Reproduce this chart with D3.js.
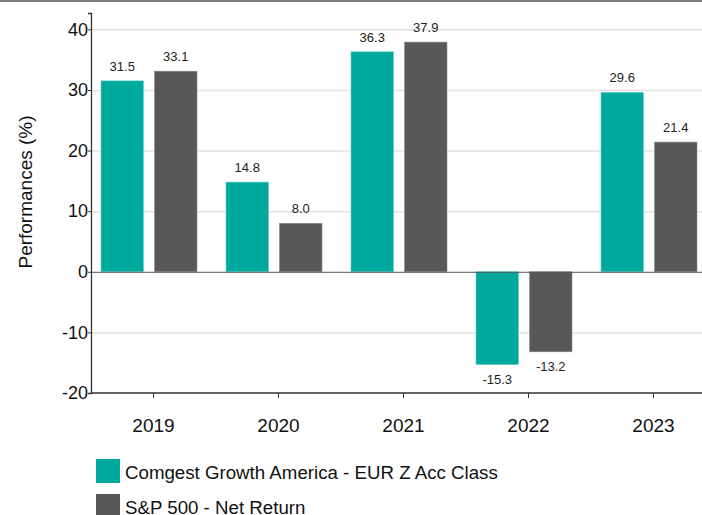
<!DOCTYPE html>
<html>
<head>
<meta charset="utf-8">
<script src="https://cdn.jsdelivr.net/npm/d3@7"></script>
<style>
  html, body { margin: 0; background: #fff; overflow: hidden; }
  svg { display: block; font-family: "Liberation Sans", Arial, sans-serif; }
</style>
</head>
<body>
<div id="chart"></div>
<script>
// data
var years = ['2019', '2020', '2021', '2022', '2023'];
var seriesNames = ['Comgest Growth America - EUR Z Acc Class', 'S&P 500 - Net Return'];
var fundValues = [31.5, 14.8, 36.3, -15.3, 29.6];
var indexValues = [33.1, 8.0, 37.9, -13.2, 21.4];
var yTicks = [-20, -10, 0, 10, 20, 30, 40];

var colors = ['#00A99D', '#585858'];

var width = 702, height = 515;
var margin = {top: 13, left: 91, bottom: 122};

var svg = d3.select('#chart')
  .append('svg')
  .attr('width', width)
  .attr('height', height);

// top border line
svg.append('line')
  .attr('x1', 0).attr('x2', width)
  .attr('y1', 1).attr('y2', 1)
  .attr('stroke', '#7a7a7a')
  .attr('stroke-width', 2);

var y = d3.scaleLinear()
  .domain([-20, 42.7])
  .range([height - margin.bottom, margin.top]);

var x0 = d3.scaleBand()
  .domain(years)
  .range([margin.left, margin.left + 625]);

var x1 = d3.scaleBand()
  .domain([0, 1])
  .range([0, 96])
  .paddingInner(0.206);

var groupOffset = 10;

// gridlines
svg.append('g')
  .selectAll('line')
  .data(yTicks.filter(function(t) { return t !== -20 && t !== 0; }))
  .enter()
  .append('line')
  .attr('x1', margin.left).attr('x2', width)
  .attr('y1', function(d) { return y(d) + 0.5; })
  .attr('y2', function(d) { return y(d) + 0.5; })
  .attr('stroke', '#e2e2e2')
  .attr('stroke-width', 1.5);

// bars
var rows = years.map(function(yr, i) {
  return {year: yr, values: [fundValues[i], indexValues[i]]};
});

var groups = svg.append('g')
  .selectAll('g')
  .data(rows)
  .enter()
  .append('g')
  .attr('transform', function(d) { return 'translate(' + (x0(d.year) + groupOffset) + ',0)'; });

var bars = groups.selectAll('g')
  .data(function(d) { return d.values.map(function(v, k) { return {k: k, v: v}; }); })
  .enter()
  .append('g');

bars.append('rect')
  .attr('x', function(d) { return x1(d.k); })
  .attr('y', function(d) { return y(Math.max(0, d.v)); })
  .attr('width', x1.bandwidth())
  .attr('height', function(d) { return Math.abs(y(d.v) - y(0)); })
  .attr('fill', function(d) { return colors[d.k]; })
  .attr('stroke', function(d) { return d.k === 0 ? '#5fd0c7' : '#8a8a8a'; })
  .attr('stroke-width', 0.6);

bars.append('text')
  .attr('x', function(d) { return x1(d.k) + x1.bandwidth() / 2; })
  .attr('y', function(d) { return d.v >= 0 ? y(d.v) - 10 : y(d.v) + 19; })
  .attr('text-anchor', 'middle')
  .attr('font-size', 13)
  .attr('fill', '#222')
  .text(function(d) { return d.v.toFixed(1); });

// zero line
svg.append('line')
  .attr('x1', margin.left).attr('x2', width)
  .attr('y1', y(0) + 0.5).attr('y2', y(0) + 0.5)
  .attr('stroke', '#555')
  .attr('stroke-width', 1);

// y axis
var yAxis = svg.append('g')
  .attr('transform', 'translate(' + margin.left + ',0)')
  .call(d3.axisLeft(y).tickValues(yTicks).tickSize(3).tickPadding(0)
    .tickFormat(function(d) { return String(d); }));
yAxis.select('.domain').attr('stroke', '#333').attr('stroke-width', 1.3);
yAxis.selectAll('.tick line').attr('stroke', '#333');
yAxis.selectAll('.tick text')
  .attr('font-size', 18)
  .attr('fill', '#111')
  .attr('font-family', '"Liberation Sans", Arial, sans-serif');

// x axis
var xAxis = svg.append('g')
  .attr('transform', 'translate(0,' + y(-20) + ')')
  .call(d3.axisBottom(x0).tickSize(5).tickSizeOuter(0).tickPadding(21));
xAxis.select('.domain').attr('stroke', '#333').attr('stroke-width', 1.3)
  .attr('d', 'M' + margin.left + ',0H' + width);
xAxis.selectAll('.tick line').attr('stroke', '#333');
xAxis.selectAll('.tick text')
  .attr('font-size', 19)
  .attr('fill', '#111')
  .attr('font-family', '"Liberation Sans", Arial, sans-serif');

// y axis title
svg.append('text')
  .attr('transform', 'translate(32,192) rotate(-90)')
  .attr('text-anchor', 'middle')
  .attr('font-size', 19)
  .attr('fill', '#111')
  .text('Performances (%)');

// legend
var legend = svg.append('g')
  .selectAll('g')
  .data(seriesNames)
  .enter()
  .append('g')
  .attr('transform', function(d, i) { return 'translate(96,' + (459 + i * 35) + ')'; });

legend.append('rect')
  .attr('width', 24)
  .attr('height', 24)
  .attr('fill', function(d, i) { return colors[i]; });

legend.append('text')
  .attr('x', 29)
  .attr('y', 19.5)
  .attr('font-size', 18.7)
  .attr('fill', '#111')
  .text(function(d) { return d; });
</script>
</body>
</html>
